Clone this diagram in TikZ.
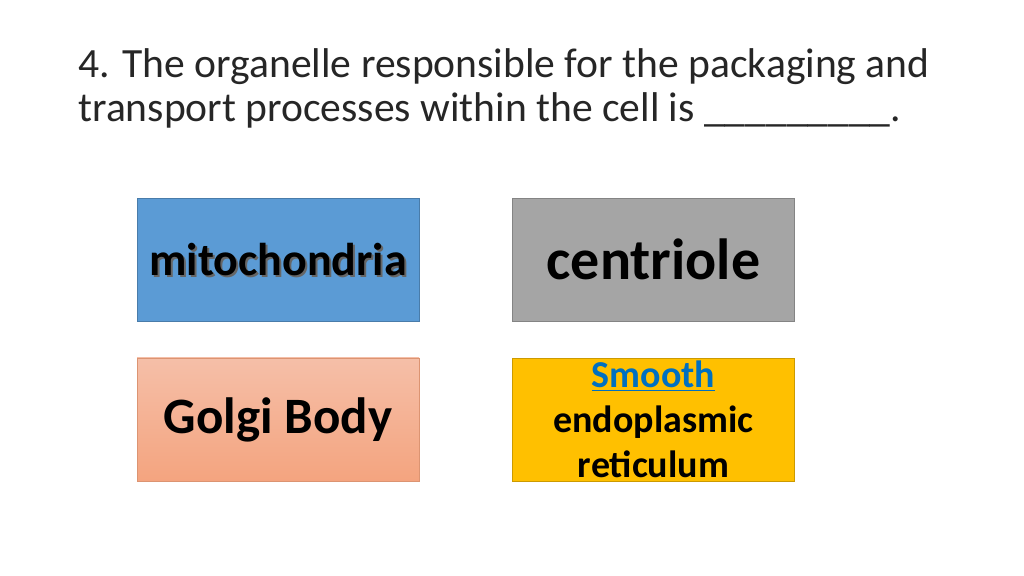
\documentclass[tikz,border=0pt]{standalone}
\usepackage{fontspec}
\setmainfont{Carlito}
\usetikzlibrary{positioning}
\definecolor{bluebox}{HTML}{5B9BD5}
\definecolor{graybox}{HTML}{A5A5A5}
\definecolor{peachtop}{HTML}{F5BFA8}
\definecolor{peachbot}{HTML}{F4A47F}
\definecolor{goldbox}{HTML}{FFC000}
\definecolor{linkblue}{HTML}{0070C0}
\definecolor{titlegray}{HTML}{262626}
\tikzset{
    answer/.style={draw=#1!80!black, fill=#1, minimum width=141pt, minimum height=61.5pt, inner sep=0pt, align=center}
}
\begin{document}
\begin{tikzpicture}[x=0.5pt, y=-0.5pt]
    \useasboundingbox (0,0) rectangle (1024,576);

    \node[anchor=base west, align=left, inner sep=0pt, text=titlegray, font=\fontsize{20.8}{22}\selectfont] (title) at (78,122)
        {4. The organelle responsible for the packaging and\\transport processes within the cell is \_\_\_\_\_\_\_\_\_.};

    \node[answer=bluebox] (mito) at (278,259.5) {};
    \node[text=black!60, font=\bfseries\fontsize{23}{26}\selectfont] at ([xshift=1pt,yshift=-1pt]mito) {mitochondria};
    \node[font=\bfseries\fontsize{23}{26}\selectfont] at (mito) {mitochondria};
    \node[answer=graybox, font=\bfseries\fontsize{29}{32}\selectfont] (centr) at (653.5,259.5) {centriole};
    \node[answer=peachbot, top color=peachtop, bottom color=peachbot, draw=peachbot!90!black,
          font=\bfseries\fontsize{25.5}{28}\selectfont] (golgi) at (278,419.5) {Golgi Body};
    \node[answer=goldbox, font=\bfseries\fontsize{19}{22.5}\selectfont] (ser) at (653.5,419.5)
        {\textcolor{linkblue}{\underline{Smooth}}\\endoplasmic\\reticulum};
\end{tikzpicture}
\end{document}
